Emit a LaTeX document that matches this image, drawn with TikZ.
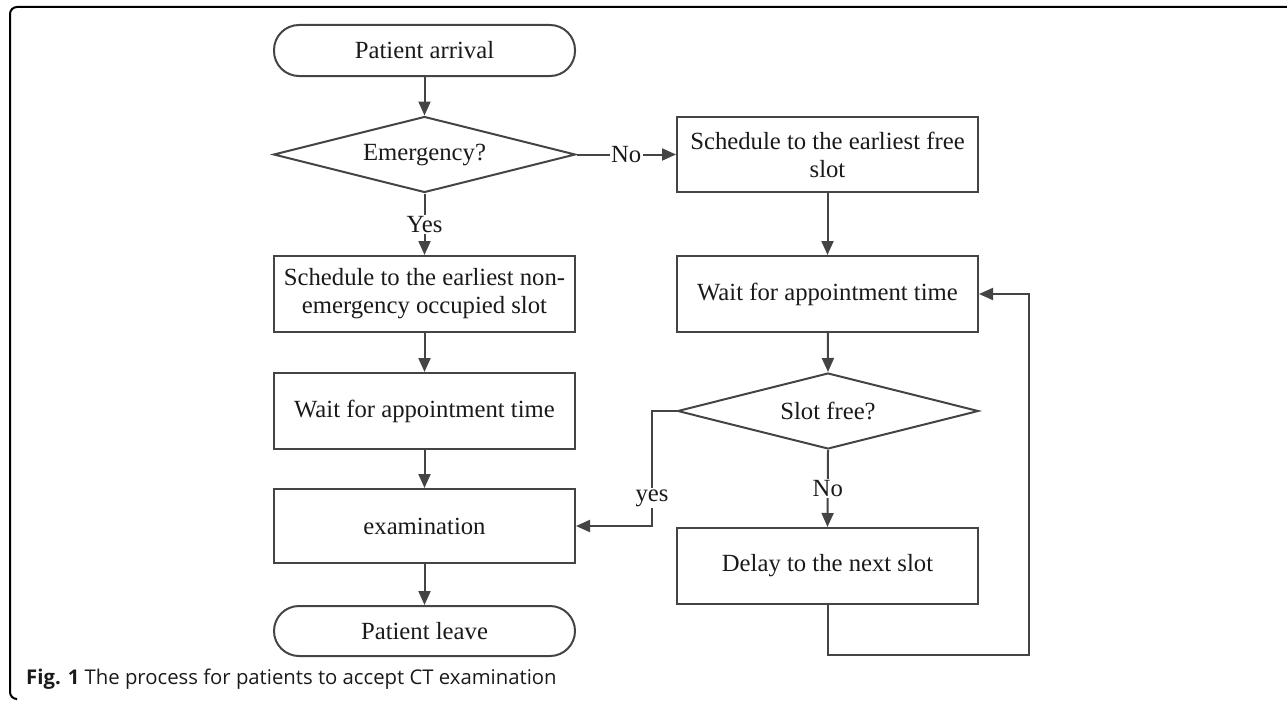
\documentclass[tikz,border=0pt]{standalone}
\usepackage{fontspec}
\setmainfont{Liberation Serif}
\newfontfamily\capfont{Open Sans}
\usetikzlibrary{shapes.geometric,arrows.meta}
\definecolor{lc}{HTML}{444444}
\definecolor{tc}{HTML}{1A1A1A}
\begin{document}
\begin{tikzpicture}[x=1pt,y=-1pt,
  base/.style={draw=lc,line width=2pt,text=tc,font=\fontsize{24.7}{28}\selectfont,align=center,inner sep=0pt},
  procbox/.style={base,rectangle,minimum width=301pt,minimum height=76pt},
  termbox/.style={base,rectangle,rounded corners=25pt,minimum width=301pt,minimum height=51pt},
  decbox/.style={base,diamond,aspect=4,minimum width=302pt,minimum height=76pt},
  conn/.style={draw=lc,line width=2pt,-{Triangle[length=14pt,width=12pt]}},
  lbl/.style={fill=white,text=tc,inner sep=1.5pt,font=\fontsize{24.7}{28}\selectfont}]
\useasboundingbox (0,0) rectangle (1287,701);
% frame
\coordinate (f1) at (1287,7);
\coordinate (f2) at (10,7);
\coordinate (f3) at (10,699);
\coordinate (f4) at (16,699);
\draw[black,line width=2pt,rounded corners=7pt] (f1) -- (f2) -- (f3) -- (f4);
% left column
\node[termbox] (arr) at (424.5,50.5) {Patient arrival};
\node[decbox] (emg) at (424.5,154.5) {Emergency?};
\node[procbox] (sch1) at (424.5,294) {Schedule to the earliest non-\\emergency occupied slot};
\node[procbox] (wait1) at (424.5,411) {Wait for appointment time};
\node[procbox,minimum height=74pt] (exam) at (424.5,526) {examination};
\node[termbox,minimum height=50pt] (leave) at (424.5,631) {Patient leave};
% right column
\node[procbox,minimum height=75pt] (sch2) at (827.5,154.5) {Schedule to the earliest free\\slot};
\node[procbox] (wait2) at (827.5,294) {Wait for appointment time};
\node[decbox,minimum width=301pt] (slot) at (828,411) {Slot free?};
\node[procbox] (delay) at (827.5,566) {Delay to the next slot};
\coordinate (yc) at (652,411);
\coordinate (c1) at (827.5,655);
\coordinate (c2) at (1029,655);
% connectors
\draw[conn] (arr) -- (emg);
\draw[conn] (emg.east) -- node[lbl]{No} (sch2.west);
\draw[conn] (emg.south) -- node[lbl]{Yes} (sch1.north);
\draw[conn] (sch1) -- (wait1);
\draw[conn] (wait1) -- (exam);
\draw[conn] (exam) -- (leave);
\draw[conn] (sch2) -- (wait2);
\draw[conn] (wait2) -- (slot.north);
\draw[conn] (slot.south) -- node[lbl]{No} (delay.north);
\draw[conn] (slot.west) -- (yc) |- node[lbl,pos=0.38]{yes} (exam.east);
\draw[conn] (delay.south) -- (c1) -- (c2) |- (wait2.east);
% caption
\node[anchor=base west,inner sep=0pt,text=tc,font=\capfont\fontsize{20.3}{23}\selectfont] (cap) at (26,684) {\textbf{Fig. 1} The process for patients to accept CT examination};
\end{tikzpicture}
\end{document}
